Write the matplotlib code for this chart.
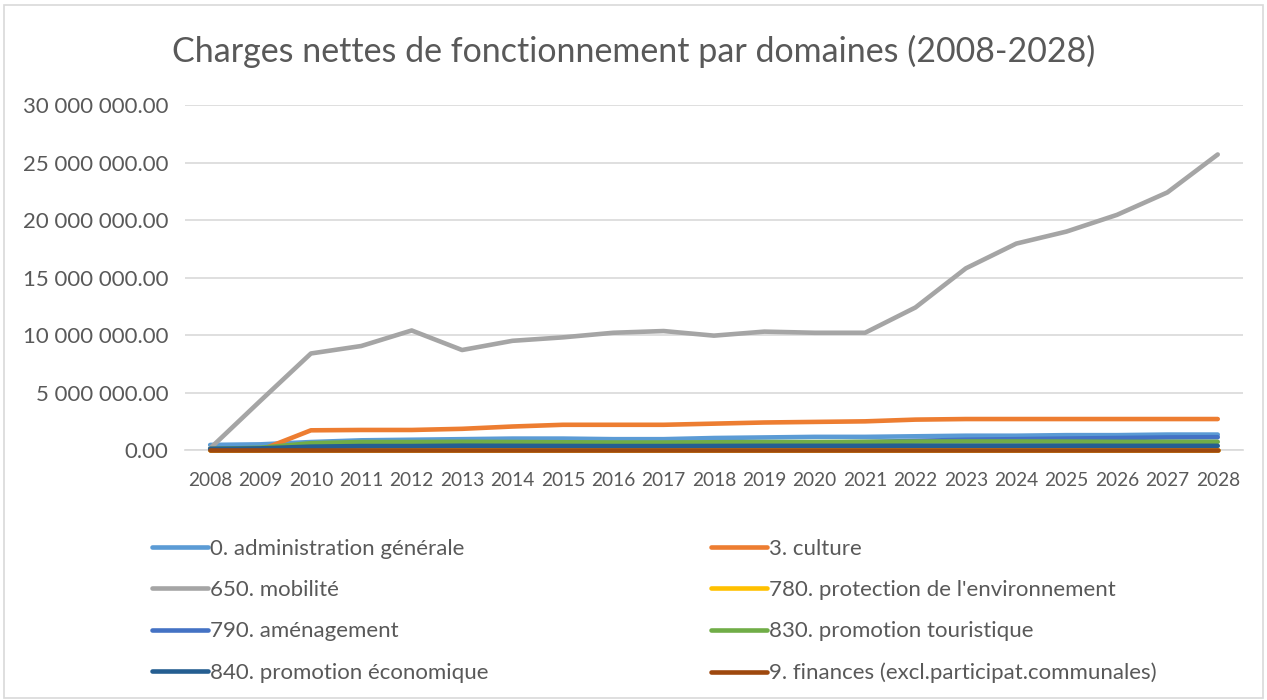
import matplotlib.pyplot as plt
from matplotlib.ticker import FuncFormatter, MultipleLocator
from matplotlib.patches import Rectangle

plt.rcParams['font.family'] = ['Lato', 'DejaVu Sans']

years = [str(y) for y in range(2008, 2029)]

admin = [0.45, 0.5, 0.7, 0.85, 0.9, 0.95, 1.0, 1.0, 0.95, 0.95, 1.05, 1.1, 1.15, 1.15, 1.2, 1.25, 1.25, 1.3, 1.3, 1.35, 1.35]
culture = [0.0, 0.0, 1.72, 1.75, 1.75, 1.85, 2.05, 2.2, 2.2, 2.2, 2.3, 2.4, 2.45, 2.5, 2.65, 2.7, 2.7, 2.7, 2.7, 2.7, 2.7]
mobilite = [0.15, 4.3, 8.4, 9.05, 10.4, 8.7, 9.5, 9.8, 10.2, 10.35, 9.95, 10.3, 10.2, 10.2, 12.4, 15.8, 17.95, 19.0, 20.45, 22.4, 25.7]
environnement = [0.05] * 21
amenagement = [0.1, 0.15, 0.3, 0.35, 0.4, 0.45, 0.45, 0.45, 0.45, 0.5, 0.55, 0.6, 0.65, 0.7, 0.8, 0.9, 0.95, 1.0, 1.05, 1.1, 1.12]
tourisme = [0.1, 0.2, 0.6, 0.7, 0.7, 0.72, 0.7, 0.68, 0.66, 0.66, 0.68, 0.7, 0.7, 0.72, 0.74, 0.75, 0.75, 0.74, 0.72, 0.72, 0.72]
economie = [0.1, 0.15, 0.3, 0.35, 0.35, 0.38, 0.37, 0.36, 0.35, 0.35, 0.36, 0.37, 0.37, 0.37, 0.38, 0.38, 0.38, 0.38, 0.37, 0.37, 0.37]
finances = [0.0] * 21

series = [
    ("0. administration générale", admin, "#5B9BD5"),
    ("3. culture", culture, "#ED7D31"),
    ("650. mobilité", mobilite, "#A5A5A5"),
    ("780. protection de l'environnement", environnement, "#FFC000"),
    ("790. aménagement", amenagement, "#4472C4"),
    ("830. promotion touristique", tourisme, "#70AD47"),
    ("840. promotion économique", economie, "#255E91"),
    ("9. finances (excl.participat.communales)", finances, "#9E480E"),
]

fig = plt.figure(figsize=(12.67, 7.0), dpi=100)
ax = fig.add_axes([0.146, 0.357, 0.835, 0.493])

handles = []
for name, vals, col in series:
    h, = ax.plot(years, [v * 1e6 for v in vals], color=col, lw=3.3, clip_on=False,
                 solid_capstyle='round', solid_joinstyle='round', label=name, zorder=3)
    handles.append(h)

ax.set_xlim(-0.5, len(years) - 0.5)
ax.set_ylim(0, 30e6)
ax.yaxis.set_major_locator(MultipleLocator(5e6))

def fmt(v, pos):
    return f"{v:,.2f}".replace(",", " ")

ax.yaxis.set_major_formatter(FuncFormatter(fmt))
ax.grid(axis='y', color='#D9D9D9', lw=1.2)
ax.set_axisbelow(True)
for s in ['top', 'right', 'left']:
    ax.spines[s].set_visible(False)
ax.spines['bottom'].set_color('#D9D9D9')
ax.spines['bottom'].set_linewidth(1.2)
ax.spines['bottom'].set_zorder(1)
ax.tick_params(axis='both', length=0, colors='#595959')
ax.tick_params(axis='y', pad=12, labelsize=16)
ax.tick_params(axis='x', pad=16, labelsize=13.8)

fig.text(0.5, 0.927, "Charges nettes de fonctionnement par domaines (2008-2028)",
         ha='center', va='center', fontsize=24.5, color='#595959')

order = [0, 2, 4, 6, 1, 3, 5, 7]
leg = fig.legend([handles[i] for i in order], [series[i][0] for i in order],
                 loc='upper left', bbox_to_anchor=(0.113, 0.243), ncol=2,
                 frameon=False, fontsize=16, handlelength=2.5, handletextpad=0.12,
                 columnspacing=10.0, labelspacing=0.96, borderaxespad=0)
for t in leg.get_texts():
    t.set_color('#595959')

fig.patches.append(Rectangle((0.003, 0.003), 0.994, 0.99, transform=fig.transFigure,
                             fill=False, edgecolor='#D9D9D9', lw=1.2))

fig.savefig("out.png", dpi=100)
